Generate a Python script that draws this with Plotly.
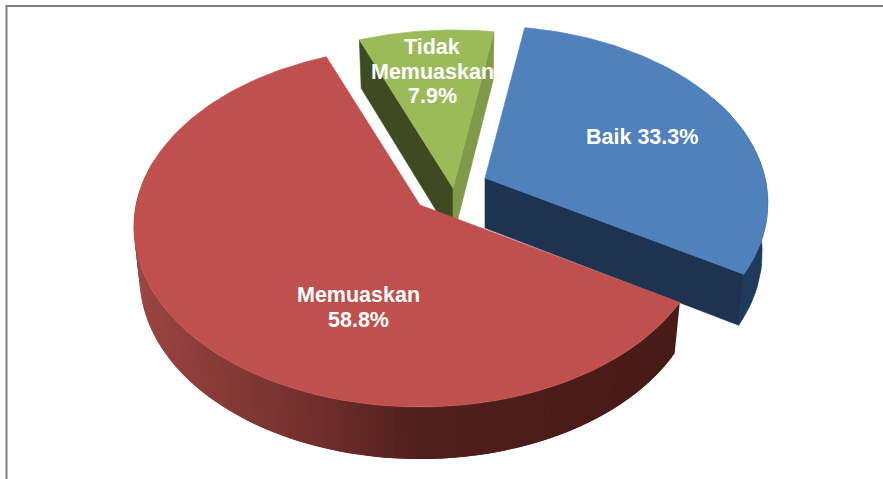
import numpy as np
import plotly.graph_objects as go

# --- data ---
categories = ["Baik", "Memuaskan", "Tidak Memuaskan"]
values = [33.3, 58.8, 7.9]
label_lines = [["Baik 33.3%"], ["Memuaskan", "58.8%"], ["Tidak", "Memuaskan", "7.9%"]]

# --- styling / geometry parameters ---
W, H = 883, 479
top_colors = ["#4f81bd", "#c0504d", "#9bbb59"]
pie_centers = [(485, 178), (420, 205), (453, 188)]
label_anchor = [(642, 137), (358, 295), (432, 47)]
line_gap = 24.5
slice_R = [280.0, 284.0, 284.0]
slice_K = [0.141, 0.122, 0.122]
NEAR = 202.0
DEPTH, SX, SY = 50.0, 0.98, 1.01
START = 3.77


def warp(theta):
    return theta + 5.53 * np.sin(np.radians(2 * theta + 83.8))


def rim(theta, idx, bottom=False):
    center = pie_centers[idx]
    K = slice_K[idx]
    a = np.radians(warp(np.asarray(theta, dtype=float)))
    u, v = np.sin(a), -np.cos(a)
    s = 1 / (1 - K * v)
    dx, dy = slice_R[idx] * u * s, NEAR * (1 - K) * v * s
    if bottom:
        return center[0] + dx * SX, center[1] + dy * SY + DEPTH
    return center[0] + dx, center[1] + dy


def poly(fig, xs, ys, color, line=0.6):
    fig.add_trace(go.Scatter(
        x=list(xs) + [xs[0]], y=list(ys) + [ys[0]], mode="lines", fill="toself",
        fillcolor=color, line=dict(color=color, width=line), hoverinfo="skip", showlegend=False))


def lerp_color(x):
    stops = [(130, (158, 70, 67)), (250, (130, 56, 53)), (330, (112, 46, 44)),
             (420, (82, 32, 30)), (560, (76, 28, 26)), (680, (72, 26, 24))]
    xs = [s[0] for s in stops]
    rgb = [int(np.interp(x, xs, [s[1][i] for s in stops])) for i in range(3)]
    return f"rgb({rgb[0]},{rgb[1]},{rgb[2]})"


spans = []
acc = START
for val in values:
    spans.append((acc, acc + val / sum(values) * 360))
    acc = spans[-1][1]

fig = go.Figure()

# --- green slice (index 2) ---
t0, t1 = spans[2]
c = pie_centers[2]
tl, tr = rim(t0, 2), rim(t1, 2)
bl, br = rim(t0, 2, True), rim(t1, 2, True)
poly(fig, [c[0], tl[0], bl[0], c[0]], [c[1], tl[1], bl[1], c[1] + DEPTH], "#3f4a22")
poly(fig, [c[0], tr[0], br[0], c[0]], [c[1], tr[1], br[1], c[1] + DEPTH], "#7f9a48")
th = np.linspace(t0, t1, 40)
x, y = rim(th, 2)
poly(fig, [c[0], *x], [c[1], *y], top_colors[2])

# --- blue slice (index 0) ---
t0, t1 = spans[0]
c = pie_centers[0]
th = np.linspace(t0 + 60, t1, 40)
xt, yt = rim(th, 0)
xb, yb = rim(th, 0, True)
poly(fig, [*xt, *xb[::-1]], [*yt, *yb[::-1]], "#1f3a5c")
te, be = rim(t1, 0), rim(t1, 0, True)
poly(fig, [c[0], te[0], be[0], c[0]], [c[1], te[1], be[1], c[1] + DEPTH], "#1d3350")
th = np.linspace(t0, t1, 80)
x, y = rim(th, 0)
poly(fig, [c[0], *x], [c[1], *y], top_colors[0])

# --- red slice (index 1) ---
t0, t1 = spans[1]
c = pie_centers[1]
th = np.linspace(t0, 290, 160)
xt, yt = rim(th, 1)
xb, yb = rim(th, 1, True)
# strips overlap their neighbour so no seams show in the gradient wall
for i in range(len(th) - 3, -1, -1):
    col = lerp_color(xt[i])
    poly(fig, [xt[i], xt[i + 2], xb[i + 2], xb[i]], [yt[i], yt[i + 2], yb[i + 2], yb[i]], col, line=0)
th = np.linspace(t0, t1, 160)
x, y = rim(th, 1)
poly(fig, [c[0], *x], [c[1], *y], top_colors[1])

# --- labels ---
annotations = []
for lines, (ax, ay) in zip(label_lines, label_anchor):
    for j, text in enumerate(lines):
        annotations.append(dict(
            x=ax, y=ay + j * line_gap, xref="x", yref="y", text=text, showarrow=False,
            font=dict(family="Liberation Sans", size=21.5, color="white", weight="bold"),
            xanchor="center", yanchor="middle"))

frame = [
    dict(type="line", x0=6.5, x1=W, y0=6, y1=6, xref="x", yref="y", line=dict(color="#7f7f7f", width=2)),
    dict(type="line", x0=6.5, x1=6.5, y0=5, y1=H, xref="x", yref="y", line=dict(color="#7f7f7f", width=2)),
]

fig.update_layout(
    width=W, height=H, margin=dict(l=0, r=0, t=0, b=0),
    paper_bgcolor="white", plot_bgcolor="white", showlegend=False,
    xaxis=dict(range=[0, W], visible=False, fixedrange=True),
    yaxis=dict(range=[H, 0], visible=False, fixedrange=True),
    annotations=annotations, shapes=frame,
)
fig.write_html("out.html", config=dict(displayModeBar=False),
               post_script="document.body.style.margin='0';document.documentElement.style.overflow='hidden';")
